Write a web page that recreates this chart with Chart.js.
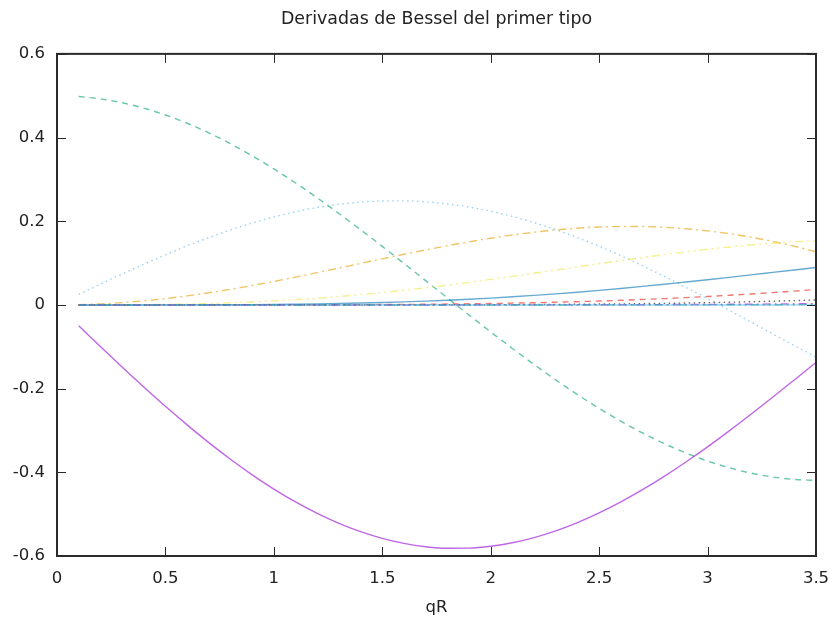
<!DOCTYPE html>
<html>
<head>
<meta charset="utf-8">
<script src="https://cdn.jsdelivr.net/npm/chart.js@4"></script>
<style>
  html, body { margin: 0; padding: 0; background: #fff; }
  #wrap { width: 838px; height: 630px; }
</style>
</head>
<body>
<div id="wrap"><canvas id="besselChart"></canvas></div>
<script>
const qR = [0.1, 0.2, 0.3, 0.4, 0.5, 0.6, 0.7, 0.8, 0.9, 1.0,
    1.1, 1.2, 1.3, 1.4, 1.5, 1.6, 1.7, 1.8, 1.9, 2.0,
    2.1, 2.2, 2.3, 2.4, 2.5, 2.6, 2.7, 2.8, 2.9, 3.0,
    3.1, 3.2, 3.3, 3.4, 3.5];

// J_n'(qR), n = 0..10
const dJ0 = [-0.0499, -0.0995, -0.1483, -0.1960, -0.2423, -0.2867, -0.3290, -0.3688, -0.4060, -0.4401,
    -0.4709, -0.4983, -0.5220, -0.5419, -0.5579, -0.5699, -0.5778, -0.5815, -0.5812, -0.5767,
    -0.5683, -0.5560, -0.5399, -0.5202, -0.4971, -0.4708, -0.4416, -0.4097, -0.3754, -0.3391,
    -0.3009, -0.2613, -0.2207, -0.1792, -0.1374];
const dJ1 = [0.4981, 0.4925, 0.4832, 0.4703, 0.4539, 0.4342, 0.4112, 0.3852, 0.3565, 0.3251,
    0.2915, 0.2559, 0.2185, 0.1797, 0.1399, 0.0992, 0.0581, 0.0169, -0.0241, -0.0645,
    -0.1040, -0.1423, -0.1792, -0.2142, -0.2472, -0.2779, -0.3060, -0.3314, -0.3538, -0.3731,
    -0.3891, -0.4019, -0.4112, -0.4170, -0.4194];
const dJ2 = [0.0250, 0.0497, 0.0739, 0.0974, 0.1199, 0.1412, 0.1610, 0.1793, 0.1958, 0.2102,
    0.2226, 0.2327, 0.2404, 0.2457, 0.2485, 0.2487, 0.2463, 0.2414, 0.2339, 0.2239,
    0.2115, 0.1968, 0.1799, 0.1610, 0.1402, 0.1178, 0.0938, 0.0685, 0.0422, 0.0150,
    -0.0128, -0.0409, -0.0691, -0.0971, -0.1247];
const dJ3 = [0.0006, 0.0025, 0.0056, 0.0098, 0.0152, 0.0217, 0.0291, 0.0374, 0.0465, 0.0562,
    0.0665, 0.0772, 0.0881, 0.0991, 0.1102, 0.1210, 0.1315, 0.1415, 0.1508, 0.1594,
    0.1671, 0.1737, 0.1792, 0.1833, 0.1861, 0.1875, 0.1873, 0.1855, 0.1821, 0.1770,
    0.1703, 0.1619, 0.1519, 0.1403, 0.1271];
const dJ4 = [0.0000, 0.0001, 0.0003, 0.0007, 0.0013, 0.0022, 0.0034, 0.0051, 0.0071, 0.0097,
    0.0126, 0.0161, 0.0201, 0.0246, 0.0296, 0.0350, 0.0409, 0.0473, 0.0539, 0.0610,
    0.0682, 0.0757, 0.0833, 0.0909, 0.0986, 0.1060, 0.1133, 0.1203, 0.1269, 0.1330,
    0.1385, 0.1434, 0.1475, 0.1508, 0.1532];
const dJ5 = [0, 0, 0, 0, 0.0001, 0.0002, 0.0003, 0.0005, 0.0008, 0.0012,
    0.0018, 0.0025, 0.0034, 0.0045, 0.0058, 0.0073, 0.0092, 0.0113, 0.0137, 0.0164,
    0.0194, 0.0228, 0.0265, 0.0305, 0.0348, 0.0394, 0.0443, 0.0494, 0.0548, 0.0603,
    0.0660, 0.0718, 0.0777, 0.0836, 0.0895];
const dJ6 = [0, 0, 0, 0, 0, 0, 0, 0, 0.0001, 0.0001,
    0.0002, 0.0003, 0.0004, 0.0006, 0.0009, 0.0012, 0.0016, 0.0021, 0.0027, 0.0034,
    0.0043, 0.0053, 0.0065, 0.0078, 0.0094, 0.0111, 0.0131, 0.0152, 0.0176, 0.0202,
    0.0231, 0.0262, 0.0295, 0.0331, 0.0369];
const dJ7 = [0, 0, 0, 0, 0, 0, 0, 0, 0, 0,
    0, 0, 0, 0, 0.0001, 0.0002, 0.0002, 0.0003, 0.0004, 0.0006,
    0.0008, 0.0010, 0.0013, 0.0017, 0.0021, 0.0025, 0.0031, 0.0038, 0.0046, 0.0055,
    0.0065, 0.0076, 0.0089, 0.0103, 0.0119];
const dJ8 = [0, 0, 0, 0, 0, 0, 0, 0, 0, 0,
    0, 0, 0, 0, 0, 0, 0, 0, 0, 0.0001,
    0.0001, 0.0002, 0.0002, 0.0003, 0.0004, 0.0005, 0.0006, 0.0008, 0.0010, 0.0012,
    0.0015, 0.0018, 0.0022, 0.0027, 0.0032];
const dJ9 = [0, 0, 0, 0, 0, 0, 0, 0, 0, 0,
    0, 0, 0, 0, 0, 0, 0, 0, 0, 0,
    0, 0, 0, 0, 0.0001, 0.0001, 0.0001, 0.0001, 0.0002, 0.0002,
    0.0003, 0.0004, 0.0005, 0.0006, 0.0007];
const dJ10 = [0, 0, 0, 0, 0, 0, 0, 0, 0, 0,
    0, 0, 0, 0, 0, 0, 0, 0, 0, 0,
    0, 0, 0, 0, 0, 0, 0, 0, 0, 0,
    0, 0, 0, 0.0001, 0.0001];

const xTicks = [0, 0.5, 1, 1.5, 2, 2.5, 3, 3.5];
const yTicks = [-0.6, -0.4, -0.2, 0, 0.2, 0.4, 0.6];

// gnuplot-ish line cycle: 8 colours, 5 dash types
const palette = ['rgba(148,0,211,0.6)', 'rgba(0,158,115,0.6)', 'rgba(86,180,233,0.6)',
    'rgba(230,159,0,0.6)', 'rgba(240,228,66,0.6)', 'rgba(0,114,178,0.6)',
    'rgba(229,30,16,0.6)', 'rgba(0,0,0,0.6)'];
const dashes = [[], [6, 5], [1.5, 3.5], [8, 4, 2, 4], [8, 4, 2, 4, 2, 4]];

const series = [dJ0, dJ1, dJ2, dJ3, dJ4, dJ5, dJ6, dJ7, dJ8, dJ9, dJ10];

const datasets = series.map((ys, n) => ({
    label: "J" + n + "'",
    data: qR.map((x, i) => ({x: x, y: ys[i]})),
    borderColor: palette[n % palette.length],
    borderDash: dashes[n % dashes.length],
    borderWidth: 1.4,
    pointRadius: 0,
    fill: false,
    cubicInterpolationMode: 'monotone',
    order: -n
}));

// box frame plus inward ticks on all four sides
const frame = {
    id: 'frame',
    afterDraw(chart) {
        const {ctx, chartArea: a, scales: {x, y}} = chart;
        ctx.save();
        ctx.strokeStyle = '#2b2b2b';
        ctx.lineWidth = 1;
        ctx.beginPath();
        xTicks.forEach(v => {
            const px = Math.round(x.getPixelForValue(v)) + 0.5;
            ctx.moveTo(px, a.bottom); ctx.lineTo(px, a.bottom - 9);
            ctx.moveTo(px, a.top); ctx.lineTo(px, a.top + 9);
        });
        yTicks.forEach(v => {
            const py = Math.round(y.getPixelForValue(v)) + 0.5;
            ctx.moveTo(a.left, py); ctx.lineTo(a.left + 9, py);
            ctx.moveTo(a.right, py); ctx.lineTo(a.right - 9, py);
        });
        ctx.stroke();
        ctx.lineWidth = 2;
        ctx.strokeRect(a.left, a.top, a.right - a.left, a.bottom - a.top);
        ctx.restore();
    }
};

const fmt = v => Math.abs(v) < 1e-9 ? '0' : String(+v.toFixed(2));
const labelFont = {family: 'DejaVu Sans', size: 16.5};

new Chart(document.getElementById('besselChart'), {
    type: 'line',
    data: {datasets},
    options: {
        responsive: true,
        maintainAspectRatio: false,
        animation: false,
        layout: {padding: {top: 9, right: 22, bottom: 0, left: 0}},
        plugins: {
            legend: {display: false},
            tooltip: {enabled: false},
            title: {
                display: true,
                fullSize: false,
                text: 'Derivadas de Bessel del primer tipo',
                color: '#222',
                font: {family: 'DejaVu Sans', size: 17.4, weight: 'normal'},
                padding: {top: 0, bottom: 24}
            }
        },
        scales: {
            x: {
                type: 'linear',
                min: 0, max: 3.5,
                afterBuildTicks: s => { s.ticks = xTicks.map(v => ({value: v})); },
                afterFit: s => { s.height = 74; s.paddingLeft = 0; s.paddingRight = 0; },
                grid: {display: false, drawTicks: false},
                border: {display: false},
                ticks: {
                    padding: 13,
                    color: '#222',
                    font: labelFont,
                    callback: fmt,
                    maxRotation: 0
                },
                title: {
                    display: true,
                    text: 'qR',
                    color: '#222',
                    font: labelFont,
                    padding: {top: 0, bottom: 12}
                }
            },
            y: {
                type: 'linear',
                min: -0.6, max: 0.6,
                afterBuildTicks: s => { s.ticks = yTicks.map(v => ({value: v})); },
                afterFit: s => { s.width = 57; s.paddingTop = 0; s.paddingBottom = 0; },
                grid: {display: false, drawTicks: false},
                border: {display: false},
                ticks: {
                    padding: 12,
                    color: '#222',
                    font: labelFont,
                    callback: fmt
                }
            }
        }
    },
    plugins: [frame]
});
</script>
</body>
</html>
